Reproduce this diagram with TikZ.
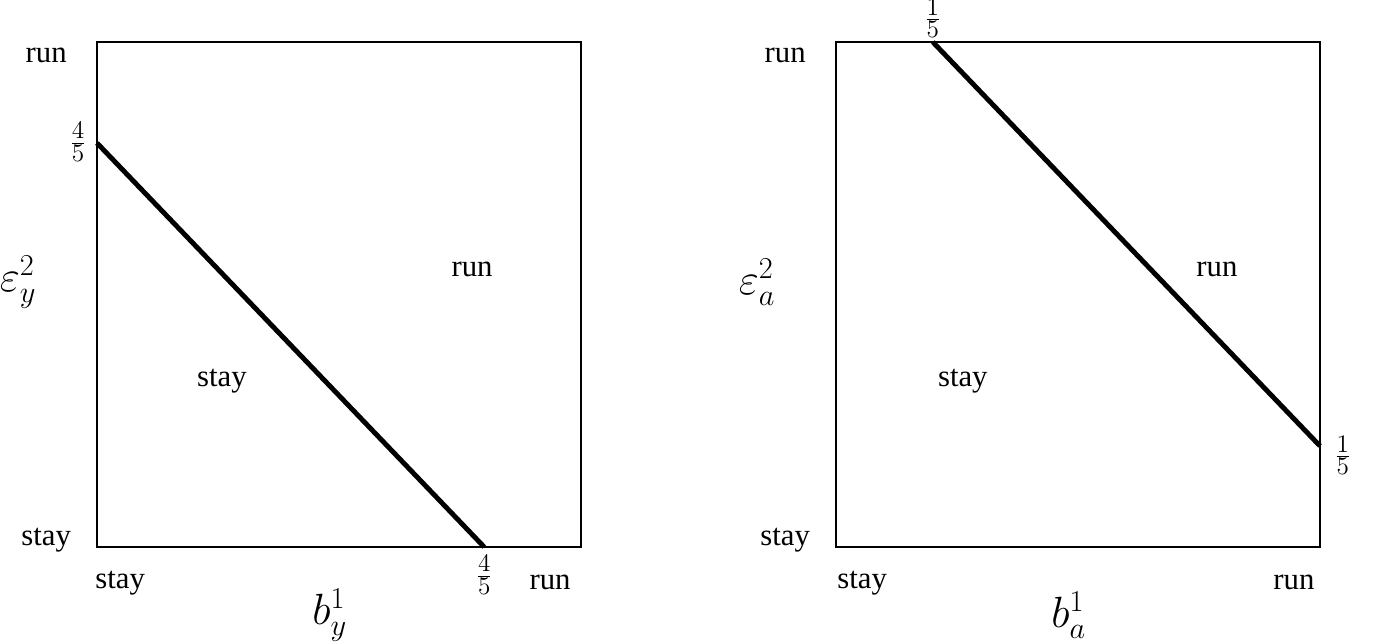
\documentclass[tikz,border=0pt]{standalone}
\usepackage{fontspec}
\setmainfont{Liberation Serif}
\begin{document}
\begin{tikzpicture}[x=9.68cm, y=10.1cm, font=\fontsize{17.5}{21}\selectfont,
  frame/.style={line width=0.8pt},
  boundary/.style={line width=2.8pt},
  fraclabel/.style={font=\fontsize{19}{23}\selectfont},
  axislabel/.style={font=\fontsize{23}{27}\selectfont}]
\useasboundingbox (-0.2004,-0.1881) rectangle (2.6467,1.0832);
\begin{scope}
\draw[frame] (0,0) rectangle (1,1);
\coordinate (ly) at (0,0.8);
\coordinate (lx) at (0.8,0);
\draw[boundary] (ly) -- (lx);
\node (runL) at (-0.105,0.974) {run};
\node (stayL) at (-0.105,0.014) {stay};
\node[fraclabel] (fracL) at (-0.039,0.802) {$\frac{4}{5}$};
\node (stayB) at (0.048,-0.071) {stay};
\node[fraclabel] (fracB) at (0.8,-0.055) {$\frac{4}{5}$};
\node (runB) at (0.936,-0.071) {run};
\node[axislabel] (by) at (0.481,-0.135) {$b_y^1$};
\node[axislabel] (ey) at (-0.163,0.525) {$\varepsilon_y^2$};
\node (runI) at (0.775,0.549) {run};
\node (stayI) at (0.258,0.329) {stay};
\end{scope}
\begin{scope}[xshift=14.78cm]
\draw[frame] (0,0) rectangle (1,1);
\coordinate (ry) at (0.2,1);
\coordinate (rx) at (1,0.2);
\draw[boundary] (ry) -- (rx);
\node (runL2) at (-0.105,0.974) {run};
\node (stayL2) at (-0.105,0.014) {stay};
\node[fraclabel] (fracT) at (0.2,1.047) {$\frac{1}{5}$};
\node[fraclabel] (fracR) at (1.047,0.182) {$\frac{1}{5}$};
\node (stayB2) at (0.054,-0.071) {stay};
\node (runB2) at (0.946,-0.071) {run};
\node[axislabel] (ba) at (0.481,-0.135) {$b_a^1$};
\node[axislabel] (ea) at (-0.163,0.525) {$\varepsilon_a^2$};
\node (runI2) at (0.787,0.549) {run};
\node (stayI2) at (0.262,0.329) {stay};
\end{scope}
\end{tikzpicture}
\end{document}
